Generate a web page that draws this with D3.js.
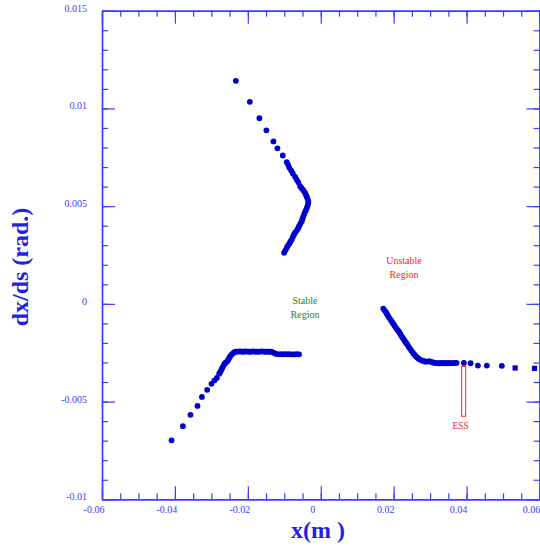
<!DOCTYPE html>
<html>
<head>
<meta charset="utf-8">
<script src="https://cdn.jsdelivr.net/npm/d3@7"></script>
<style>
  html, body { margin: 0; padding: 0; background: #fff; }
  svg { display: block; font-family: "Liberation Serif", "Times New Roman", serif; }
</style>
</head>
<body>
<svg id="chart" width="540" height="555"></svg>
<script>
// ---- Data ----
const xTickValues = [-0.06, -0.04, -0.02, 0, 0.02, 0.04, 0.06];
const xTickLabels = ["-0.06", "-0.04", "-0.02", "0", "0.02", "0.04", "0.06"];
const yTickValues = [-0.01, -0.005, 0, 0.005, 0.01, 0.015];
const yTickLabels = ["-0.01", "-0.005", "0", "0.005", "0.01", "0.015"];

// upper branch (x, dx/ds)
const upperX = [-0.02329,-0.01945,-0.01682,-0.01490,-0.01298,-0.01189,-0.01041,-0.00932,-0.00890,-0.00860,-0.00810,-0.00767,-0.00704,-0.00660,-0.00614,-0.00567,-0.00530,-0.00493,-0.00460,-0.00430,-0.00400,-0.00384,-0.00360,-0.00340,-0.00345,-0.00367,-0.00390,-0.00422,-0.00450,-0.00477,-0.00500,-0.00521,-0.00560,-0.00595,-0.00625,-0.00658,-0.00700,-0.00732,-0.00765,-0.00795,-0.00830,-0.00860,-0.00900,-0.00932,-0.00970,-0.01005];
const upperY = [0.01141,0.01034,0.00950,0.00888,0.00831,0.00796,0.00759,0.00725,0.00710,0.00696,0.00682,0.00667,0.00650,0.00636,0.00622,0.00602,0.00593,0.00585,0.00576,0.00568,0.00556,0.00548,0.00537,0.00525,0.00512,0.00499,0.00486,0.00474,0.00461,0.00448,0.00436,0.00423,0.00410,0.00397,0.00386,0.00375,0.00365,0.00355,0.00342,0.00329,0.00319,0.00309,0.00298,0.00287,0.00274,0.00261];

// lower-left branch
const lowerX = [-0.04093,-0.03781,-0.03573,-0.03381,-0.03260,-0.03115,-0.02997,-0.02915,-0.02849,-0.02786,-0.02760,-0.02732,-0.02710,-0.02685,-0.02649,-0.02620,-0.02595,-0.02560,-0.02532,-0.02510,-0.02485,-0.02438,-0.02400,-0.02375,-0.02340,-0.02301,-0.0226,-0.0222,-0.0218,-0.0214,-0.0210,-0.0206,-0.0202,-0.0198,-0.0194,-0.0190,-0.0186,-0.0182,-0.0178,-0.0174,-0.0170,-0.0166,-0.0162,-0.0158,-0.0154,-0.0150,-0.0146,-0.0142,-0.0138,-0.0134,-0.01280,-0.01220,-0.01162,-0.01100,-0.01041,-0.00985,-0.00932,-0.00877,-0.00822,-0.00760,-0.00704,-0.00650,-0.00595];
const lowerY = [-0.00698,-0.00626,-0.00568,-0.00522,-0.00476,-0.00440,-0.00409,-0.00391,-0.00379,-0.00357,-0.00350,-0.00340,-0.00331,-0.00322,-0.00309,-0.00304,-0.00299,-0.00292,-0.00285,-0.00276,-0.00268,-0.00258,-0.00252,-0.00248,-0.00245,-0.00244,-0.00244,-0.00243,-0.00244,-0.00245,-0.00244,-0.00243,-0.00244,-0.00244,-0.00245,-0.00244,-0.00243,-0.00244,-0.00244,-0.00245,-0.00244,-0.00244,-0.00243,-0.00244,-0.00244,-0.00245,-0.00244,-0.00244,-0.00245,-0.00246,-0.00251,-0.00256,-0.00258,-0.00257,-0.00258,-0.00257,-0.00258,-0.00257,-0.00258,-0.00258,-0.00258,-0.00257,-0.00258];

// right branch (circles)
const rightX = [0.01716,0.01750,0.01789,0.01820,0.01852,0.01890,0.01926,0.01960,0.01989,0.02025,0.02063,0.02100,0.02137,0.02165,0.02192,0.02220,0.02247,0.02280,0.02310,0.02340,0.02373,0.02410,0.02447,0.02485,0.02521,0.02550,0.02584,0.02620,0.02658,0.02690,0.02721,0.02765,0.02811,0.02860,0.02904,0.02950,0.02995,0.03040,0.03085,0.03130,0.03178,0.03220,0.03268,0.03315,0.03359,0.03405,0.03452,0.03500,0.03542,0.03590,0.03633,0.03680,0.03726,0.03926,0.04110,0.04310,0.04556,0.04967];
const rightY = [-0.00024,-0.00033,-0.00043,-0.00053,-0.00063,-0.00074,-0.00084,-0.00093,-0.00102,-0.00112,-0.00123,-0.00132,-0.00140,-0.00148,-0.00157,-0.00166,-0.00174,-0.00182,-0.00191,-0.00199,-0.00208,-0.00219,-0.00229,-0.00239,-0.00248,-0.00256,-0.00263,-0.00270,-0.00276,-0.00281,-0.00285,-0.00289,-0.00292,-0.00295,-0.00296,-0.00294,-0.00294,-0.00298,-0.00300,-0.00302,-0.00303,-0.00304,-0.00304,-0.00302,-0.00304,-0.00303,-0.00304,-0.00302,-0.00304,-0.00303,-0.00303,-0.00302,-0.00302,-0.00302,-0.00304,-0.00316,-0.00316,-0.00317];
// right branch (square markers at the end)
const squareX = [0.05332, 0.05863];
const squareY = [-0.00328, -0.00330];

// ESS marker
const essX = 0.0392, essTop = -0.0032, essBottom = -0.00575;

// ---- Chart ----
const svg = d3.select("#chart");
const mLeft = 102, mRight = 539.5, mTop = 10.7, mBottom = 499.3;
const x = d3.scaleLinear().domain([-0.06, 0.06]).range([mLeft, mRight]);
const y = d3.scaleLinear().domain([-0.01, 0.015]).range([mBottom, mTop]);

const axisColor = "#3c3cff";
const dotColor = "#0000cc";

const xMinor = d3.range(-0.06, 0.0601, 0.005).map(v => +v.toFixed(4));
const yMinor = d3.range(-0.01, 0.01501, 0.001).map(v => +v.toFixed(4));

function styleAxis(g) {
  g.selectAll("path").attr("stroke", axisColor).attr("stroke-width", 1.4);
  g.selectAll("line").attr("stroke", axisColor).attr("stroke-width", 1.2);
  g.selectAll("text").remove();
}

// minor ticks
svg.append("g").attr("transform", `translate(0,${mBottom})`)
  .call(d3.axisBottom(x).tickValues(xMinor).tickSize(-6).tickSizeOuter(0).tickFormat("")).call(styleAxis);
svg.append("g").attr("transform", `translate(0,${mTop})`)
  .call(d3.axisTop(x).tickValues(xMinor).tickSize(-6).tickSizeOuter(0).tickFormat("")).call(styleAxis);
svg.append("g").attr("transform", `translate(${mLeft},0)`)
  .call(d3.axisLeft(y).tickValues(yMinor).tickSize(-6).tickSizeOuter(0).tickFormat("")).call(styleAxis);
svg.append("g").attr("transform", `translate(${mRight},0)`)
  .call(d3.axisRight(y).tickValues(yMinor).tickSize(-6).tickSizeOuter(0).tickFormat("")).call(styleAxis);
// major ticks
svg.append("g").attr("transform", `translate(0,${mBottom})`)
  .call(d3.axisBottom(x).tickValues(xTickValues).tickSize(-13).tickSizeOuter(0).tickFormat("")).call(styleAxis);
svg.append("g").attr("transform", `translate(0,${mTop})`)
  .call(d3.axisTop(x).tickValues(xTickValues).tickSize(-13).tickSizeOuter(0).tickFormat("")).call(styleAxis);
svg.append("g").attr("transform", `translate(${mLeft},0)`)
  .call(d3.axisLeft(y).tickValues(yTickValues).tickSize(-13).tickSizeOuter(0).tickFormat("")).call(styleAxis);
svg.append("g").attr("transform", `translate(${mRight},0)`)
  .call(d3.axisRight(y).tickValues(yTickValues).tickSize(-13).tickSizeOuter(0).tickFormat("")).call(styleAxis);

// tick labels
svg.append("g").selectAll("text").data(xTickValues).join("text")
  .attr("x", d => x(d) - 8).attr("y", 512.5)
  .attr("text-anchor", "middle").attr("font-size", 10).attr("fill", axisColor)
  .text((d, i) => xTickLabels[i]);
svg.append("g").selectAll("text").data(yTickValues).join("text")
  .attr("x", 87).attr("y", d => y(d) + 1)
  .attr("text-anchor", "end").attr("font-size", 10).attr("fill", axisColor)
  .text((d, i) => yTickLabels[i]);

// axis titles
svg.append("text").attr("x", 318).attr("y", 538).attr("text-anchor", "middle")
  .attr("font-size", 24).attr("font-weight", "bold").attr("fill", "#1f1fe8").text("x(m )");
svg.append("text").attr("transform", "translate(28,267) rotate(-90)").attr("text-anchor", "middle")
  .attr("font-size", 24).attr("font-weight", "bold").attr("fill", "#1f1fe8").text("dx/ds (rad.)");

// data points
const pts = (xs, ys) => xs.map((v, i) => [v, ys[i]]);
const dots = svg.append("g").attr("fill", dotColor);
[pts(upperX, upperY), pts(lowerX, lowerY), pts(rightX, rightY)].forEach(series => {
  dots.append("g").selectAll("circle").data(series).join("circle")
    .attr("cx", d => x(d[0])).attr("cy", d => y(d[1])).attr("r", 2.9);
});
dots.append("g").selectAll("rect").data(pts(squareX, squareY)).join("rect")
  .attr("x", d => x(d[0]) - 2.6).attr("y", d => y(d[1]) - 2.6).attr("width", 5.2).attr("height", 5.2);

// ESS marker
svg.append("rect").attr("x", x(essX) - 2).attr("y", y(essTop))
  .attr("width", 4).attr("height", y(essBottom) - y(essTop))
  .attr("fill", "none").attr("stroke", "#ff2020").attr("stroke-width", 1);
svg.append("text").attr("x", x(essX) - 3).attr("y", 429).attr("text-anchor", "middle")
  .attr("font-size", 9.5).attr("fill", "#ff2020").text("ESS");

// region labels
svg.append("text").attr("x", 305).attr("y", 303.5).attr("text-anchor", "middle")
  .attr("font-size", 10).attr("fill", "#1a8a1a").text("Stable");
svg.append("text").attr("x", 305).attr("y", 317.5).attr("text-anchor", "middle")
  .attr("font-size", 10).attr("fill", "#1a8a1a").text("Region");
svg.append("text").attr("x", 404).attr("y", 263.5).attr("text-anchor", "middle")
  .attr("font-size", 10).attr("fill", "#ff2020").text("Unstable");
svg.append("text").attr("x", 404).attr("y", 278).attr("text-anchor", "middle")
  .attr("font-size", 10).attr("fill", "#ff2020").text("Region");
</script>
</body>
</html>
